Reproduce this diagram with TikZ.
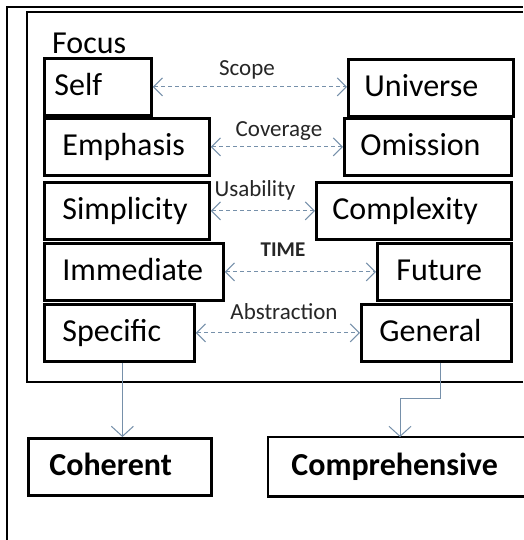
\documentclass[tikz,border=0pt]{standalone}
\usepackage{fontspec}
\setmainfont{Carlito}
\usetikzlibrary{arrows.meta}
\definecolor{conncol}{RGB}{118,144,170}
\newcommand{\lt}[2]{\makebox[#1pt][l]{#2}}
\tikzset{
  box/.style={draw=black, line width=2.8pt, anchor=north west, minimum height=57pt,
    inner ysep=0pt, text height=23pt, text depth=5pt,
    font=\fontsize{32}{38}\selectfont},
  lbl/.style={font=\fontsize{23}{26}\selectfont, inner sep=0pt, text=black!85},
  dashconn/.style={draw=conncol, line width=1pt, dash pattern=on 4pt off 3pt,
    {Straight Barb[length=9pt,width=18pt,line width=1pt]}-{Straight Barb[length=9pt,width=18pt,line width=1pt]}},
  conn/.style={draw=conncol, line width=1pt, -{Straight Barb[length=10pt,width=22pt,line width=1pt]}}
}
\begin{document}
\begin{tikzpicture}[x=1pt,y=-1pt]
\useasboundingbox (0,0) rectangle (523,540);
\fill[white] (0,0) rectangle (523,540);
% outer and inner frames (open to the right and bottom)
\draw[line width=2pt] (7,540) -- (7,7) -- (523,7);
\draw[line width=2.8pt] (523,382) -- (27,382) -- (27,12) -- (523,12);
\node[anchor=west, inner sep=0pt, font=\fontsize{32}{38}\selectfont] (focus) at (52,43) {Focus};
% left column
\node[box, inner xsep=10pt] (self) at (43,57) {\lt{87}{Self}};
\node[box, inner xsep=18pt] (emphasis) at (43,117) {\lt{129}{Emphasis}};
\node[box, inner xsep=18pt] (simplicity) at (43,181) {\lt{129}{Simplicity}};
\node[box, inner xsep=18pt] (immediate) at (43,242) {\lt{143}{Immediate}};
\node[box, inner xsep=18pt] (specific) at (43,303) {\lt{114}{Specific}};
% right column
\node[box, inner xsep=16pt] (universe) at (347,58) {\lt{133}{Universe}};
\node[box, inner xsep=16pt] (omission) at (343,117) {\lt{135}{Omission}};
\node[box, inner xsep=16pt] (complexity) at (315,181) {\lt{163}{Complexity}};
\node[box, inner xsep=19pt] (future) at (376,242) {\lt{96}{Future}};
\node[box, inner xsep=18pt] (general) at (360,303) {\lt{114}{General}};
% bottom boxes
\node[box, inner xsep=21pt, font=\fontsize{32}{38}\selectfont\bfseries] (coherent) at (27,437) {\lt{141}{Coherent}};
\node[box, draw=none, inner xsep=22pt, font=\fontsize{32}{38}\selectfont\bfseries] (comprehensive) at (268,437) {\lt{211}{Comprehensive}};
\draw[line width=2.8pt] (comprehensive.north east) -- (comprehensive.north west) -- (comprehensive.south west) -- (comprehensive.south east);
% dashed double arrows
\draw[dashconn] (self.east) -- (universe.west |- self.east);
\draw[dashconn] (emphasis.east) -- (omission.west);
\draw[dashconn] (simplicity.east) -- (complexity.west);
\draw[dashconn] (immediate.east) -- (future.west);
\draw[dashconn] (specific.east) -- (general.west);
% labels
\node[lbl] (lscope) at (247,70) {Scope};
\node[lbl] (lcov) at (279,131) {Coverage};
\node[lbl] (luse) at (255,190) {Usability};
\node[lbl, font=\fontsize{21}{24}\selectfont\bfseries] (ltime) at (283,250) {TIME};
\node[lbl] (labs) at (284,312) {Abstraction};
% connectors to bottom
\draw[conn] ([xshift=3pt]specific.south) -- ([xshift=3pt]specific.south |- coherent.north);
\coordinate (kink) at (400,398);
\draw[conn] ([xshift=4pt]general.south) |- (kink) -- (kink |- comprehensive.north);
\end{tikzpicture}
\end{document}
